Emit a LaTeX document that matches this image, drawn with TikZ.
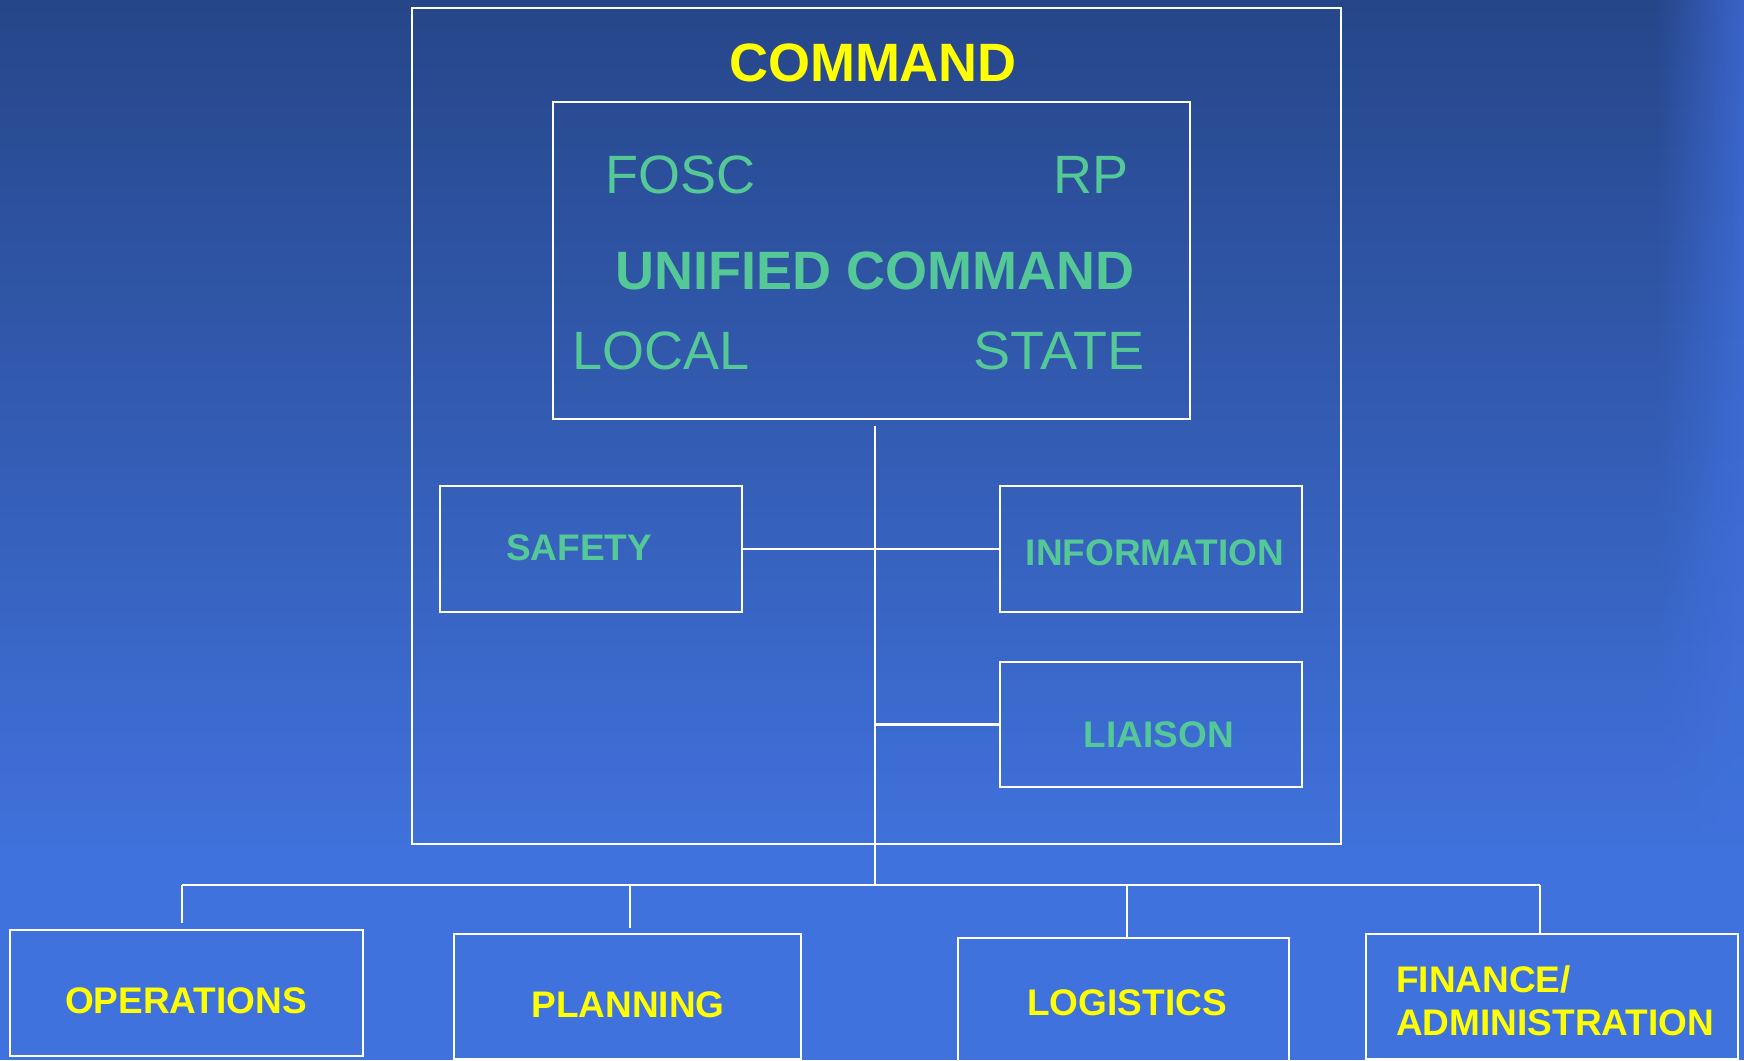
\documentclass[tikz,border=0pt]{standalone}
\usepackage{fontspec}
\setmainfont{Liberation Sans}
\usetikzlibrary{fadings}
\definecolor{bgtop}{RGB}{38,70,137}
\definecolor{bgbot}{RGB}{64,114,221}
\definecolor{edgetop}{RGB}{58,100,200}
\definecolor{ucgreen}{RGB}{84,200,150}
\definecolor{ylw}{RGB}{255,255,0}
\begin{document}
\begin{tikzpicture}[x=1pt,y=-1pt,
  box/.style={draw=white, line width=2.4pt, inner sep=0pt, rectangle},
  conn/.style={draw=white, line width=2.2pt},
  bigtxt/.style={inner sep=0pt, text=ucgreen, font=\fontsize{54}{54}\selectfont},
  bigbold/.style={inner sep=0pt, font=\fontsize{54}{54}\selectfont\bfseries},
  smalllbl/.style={inner sep=0pt, font=\fontsize{37}{37}\selectfont\bfseries},
]
\useasboundingbox (0,0) rectangle (1744,1060);
% background
\shade[top color=bgtop, bottom color=bgbot] (0,0) rectangle (1744,860);
\fill[bgbot] (0,859) rectangle (1744,1060);
\shade[top color=edgetop, bottom color=bgbot, path fading=west] (1655,0) rectangle (1744,860);

% boxes
\node[box, minimum width=929pt, minimum height=836pt] (cmdframe) at (876.5,426) {};
\node[box, minimum width=637pt, minimum height=317pt] (unified) at (871.5,260.5) {};
\node[box, minimum width=302pt, minimum height=126pt] (safety) at (591,549) {};
\node[box, minimum width=302pt, minimum height=126pt] (info) at (1151,549) {};
\node[box, minimum width=302pt, minimum height=125pt] (liaison) at (1151,724.5) {};
\node[box, minimum width=353pt, minimum height=126pt] (ops) at (186.5,993) {};
\node[box, minimum width=347pt, minimum height=125pt] (plan) at (627.5,996.5) {};
\node[box, minimum width=331pt, minimum height=132pt] (logi) at (1123.5,1004) {};
\node[box, minimum width=372pt, minimum height=125pt] (fin) at (1552,996.5) {};

% texts
\node[bigbold, text=ylw] (tcommand) at (873,63) {COMMAND};
\node[bigtxt, anchor=west] (tfosc) at (605,175) {FOSC};
\node[bigtxt, anchor=west] (trp) at (1053,175) {RP};
\node[bigbold, text=ucgreen] (tunified) at (875,271) {UNIFIED COMMAND};
\node[bigtxt, anchor=west] (tlocal) at (572,351) {LOCAL};
\node[bigtxt, anchor=west] (tstate) at (973,351) {\scalebox{1.03}[1]{STATE}};

\node[smalllbl, text=ucgreen] (tsafety) at (579,548) {SAFETY};
\node[smalllbl, text=ucgreen] (tinfo) at (1155,553) {INFORMATION};
\node[smalllbl, text=ucgreen] (tliaison) at (1159,735) {LIAISON};

\node[smalllbl, text=ylw] (tops) at (186,1001) {OPERATIONS};
\node[smalllbl, text=ylw] (tplan) at (628,1005) {PLANNING};
\node[smalllbl, text=ylw] (tlogi) at (1127,1003) {LOGISTICS};
\node[smalllbl, text=ylw, anchor=west] (tfin1) at (1396,979) {FINANCE/};
\node[smalllbl, text=ylw, anchor=west] (tfin2) at (1396,1023) {ADMINISTRATION};

% connectors
\coordinate (trunktop) at (875,426);
\coordinate (trunkbot) at (875,885);
\coordinate (lj) at (875,724.5);
\coordinate (d1) at (182,885);
\coordinate (d2) at (630,885);
\coordinate (d3) at (1127,885);
\coordinate (d4) at (1540,885);
\draw[conn] (trunktop) -- (trunkbot);
\draw[conn] (safety.east) -- (info.west);
\draw[conn] (lj) -- (liaison.west);
\draw[conn] (d1) -- (d4);
\draw[conn] (d1) -- ([yshift=6pt]d1 |- ops.north);
\draw[conn] (d2) -- ([yshift=5pt]d2 |- plan.north);
\draw[conn] (d3) -- (d3 |- logi.north);
\draw[conn] (d4) -- (d4 |- fin.north);
\end{tikzpicture}
\end{document}
